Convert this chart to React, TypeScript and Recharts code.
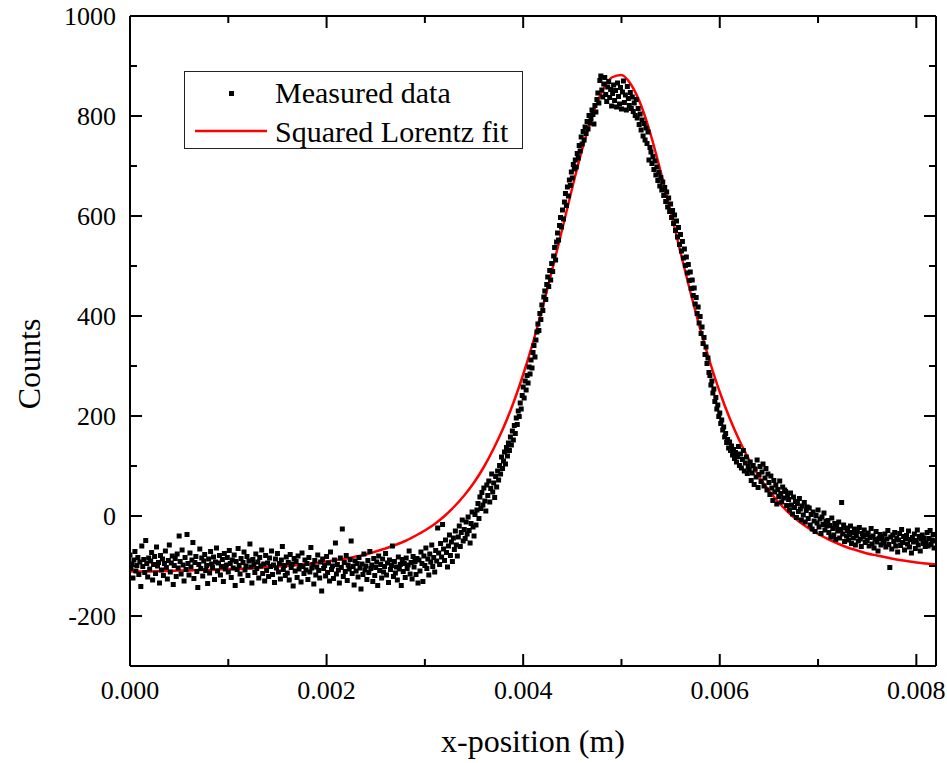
import React from 'react';
import { ComposedChart, Scatter, Line, XAxis, YAxis, Legend, Label } from 'recharts';

// ---------- data ----------
const MEASURED_X_START = 0;
const MEASURED_X_STEP = 0.00001; // m, scan step
const measuredCounts: number[] = [
  -78, -105, -96, -124, -88, -71, -110, -99, -83, -117, -92, -141, -60, -101, -87, -113, -49, -95, -122, -84,
  -106, -90, -73, -128, -97, -81, -115, -62, -100, -93, -134, -79, -108, -86, -119, -95, -70, -103, -126, -89,
  -58, -112, -94, -80, -137, -99, -85, -121, -76, -104, -40, -91, -116, -68, -98, -130, -83, -107, -37, -95,
  -118, -74, -102, -88, -53, -125, -93, -81, -111, -143, -97, -66, -105, -84, -120, -90, -77, -109, -99, -135,
  -86, -114, -71, -96, -103, -82, -127, -92, -64, -110, -94, -79, -118, -101, -87, -131, -75, -106, -98, -83,
  -112, -69, -95, -123, -88, -104, -78, -139, -91, -107, -65, -99, -116, -85, -129, -93, -72, -108, -100, -81,
  -119, -90, -56, -102, -134, -87, -97, -113, -76, -105, -92, -124, -83, -100, -68, -115, -96, -130, -79, -109,
  -94, -121, -84, -101, -70, -117, -98, -133, -86, -104, -75, -112, -95, -126, -88, -61, -107, -99, -119, -82,
  -114, -93, -128, -77, -103, -96, -140, -85, -110, -91, -123, -80, -106, -99, -132, -74, -101, -115, -88, -108,
  -95, -127, -83, -112, -63, -104, -97, -136, -89, -118, -102, -78, -109, -124, -92, -150, -86, -105, -99, -120,
  -81, -113, -94, -130, -72, -107, -100, -125, -88, -54, -116, -97, -108, -134, -84, -103, -26, -121, -93, -111,
  -79, -129, -98, -106, -87, -50, -115, -101, -138, -90, -110, -95, -122, -83, -104, -146, -96, -117, -76, -108,
  -100, -127, -89, -113, -71, -105, -98, -131, -85, -119, -103, -92, -139, -80, -109, -97, -124, -86, -112, -101,
  -75, -118, -94, -133, -88, -107, -99, -60, -121, -91, -114, -102, -128, -82, -106, -97, -139, -87, -111, -95,
  -123, -84, -105, -98, -70, -116, -93, -126, -81, -102, -91, -117, -85, -134,
  -88, -110, -72, -95, -131, -80, -99, -64, -105, -86, -118, -76, -92, -58, -101, -83, -112, -69, -90, -24,
  -74, -97, -55, -82, -17, -66, -89, -48, -73, -102, -60, -38, -79, -52, -91, -44, -67, -30, -58, -80,
  -42, -20, -61, -33, -8, -50, -27, -45, -12, -36, -2, -29, -54, -15, 8, -22, -40, 3, -18, 12,
  25, -5, 38, 15, 47, 22, 56, 30, 10, 62, 41, 70, 28, 55, 84, 48, 66, 37, 79, 58,
  90, 72, 101, 84, 118, 95, 110, 128, 104, 137, 120, 146, 131, 158, 142, 170, 152, 181, 165, 196,
  183, 210, 199, 226, 214, 241, 258, 236, 270, 252, 281, 266, 298, 284, 312, 296, 327, 341, 318, 352,
  368, 384, 371, 405, 393, 422, 411, 438, 450, 433, 463, 478, 459, 491, 472, 505, 489, 520, 537, 512,
  548, 566, 552, 581, 597, 578, 612, 594, 628, 645, 621, 658, 640, 672, 661, 688, 676, 703, 694, 712,
  698, 725, 716, 741, 730, 758, 744, 769, 752, 778, 765, 789, 774, 801, 786, 795, 812, 803, 784, 821,
  808, 833, 846, 826, 871, 880, 852, 838, 864, 877, 843, 829, 858, 869, 837, 853, 820, 845, 862, 831,
  851, 818, 866, 839, 824, 857, 814, 848, 870, 827, 842, 812, 859, 835, 821, 847,
  815, 838, 809, 826, 801, 833, 796, 815, 783, 804, 772, 792, 760, 785, 752, 776, 745, 768, 712, 737,
  728, 705, 719, 693, 710, 682, 698, 671, 687, 660, 677, 652, 668, 641, 657, 629, 648, 618, 636, 609,
  624, 597, 611, 585, 602, 571, 590, 558, 577, 543, 563, 530, 549, 516, 534, 501, 518, 486, 503, 471,
  488, 455, 472, 441, 456, 424, 437, 405, 418, 386, 399, 365, 378, 345, 357, 323, 338, 305, 316, 287,
  281, 262, 270, 246, 254, 229, 237, 214, 222, 199, 206, 185, 192, 172, 178, 158, 165, 147, 153, 136,
  148, 131, 140, 122, 133, 115, 127, 108, 119, 139, 101, 124, 96, 113, 131, 90, 106, 118, 85, 99,
  92, 108, 71, 86, 101, 63, 94, 78, 112, 57, 83, 99, 69, 88, 104, 60, 76, 95, 52, 84,
  67, 43, 80, 56, 31, 71, 48, 62, 24, 53, 39, 70, 45, 28, 58, 36, 52, 49, 21, 41,
  33, 12, 46, 22, 4, 38, 17, 29, -3, 25, 9, 35, 14, -8, 20, 2, 27, -12, 11, 18,
  -5, 16, -18, 3, -26, 8, -10, -31, 1, -14, 12, -22, -6, -35, -2, -17, 6, -28, -11, -20,
  -9, -33, -19, -42, -4, -25, -38, -15, -47, -21, -30, -12, -44, -27, 27, -36, -18, -51, -24, -40,
  -29, -48, -37, -20, -55, -33, -44, -26, -58, -39, -31, -50, -23, -46, -61, -35, -42, -28, -53, -38,
  -49, -34, -60, -43, -25, -56, -40, -64, -47, -31, -52, -70, -45, -37, -58, -41, -50, -54, -36, -62,
  -46, -29, -57, -103, -42, -66, -38, -51, -33, -60, -44, -72, -48, -35, -59, -27, -53, -41, -68, -45,
  -39, -56, -30, -62, -47, -74, -43, -52, -36, -65, -49, -28, -58, -41, -70, -46, -38, -55, -44, -61,
  -52, -33, -60, -45, -29, -57, -48, -37, -64, -50,
];

const FIT_X_START = 0;
const FIT_X_STEP = 0.0001;
const fitCounts: number[] = [
  -111, -111, -111, -110, -110, -109, -109, -108, -108, -107,
  -106, -106, -105, -104, -102, -101, -100, -98, -96, -94,
  -91, -88, -85, -81, -77, -71, -65, -58, -50, -40,
  -29, -16, 0, 19, 41, 67, 98, 135, 177, 226,
  283, 347, 419, 496, 576, 657, 733, 799, 848, 877,
  882, 862, 821, 761, 688, 609, 528, 449, 375, 308,
  248, 196, 151, 112, 79, 51, 27, 7, -10, -24,
  -36, -46, -55, -63, -69, -75, -79, -83, -87, -90,
  -93, -95, -97,
];

const xTicks = [0, 0.001, 0.002, 0.003, 0.004, 0.005, 0.006, 0.007, 0.008];
const yTicks = [-200, -100, 0, 100, 200, 300, 400, 500, 600, 700, 800, 900, 1000];
const X_DOMAIN: [number, number] = [0, 0.0082];
const Y_DOMAIN: [number, number] = [-300, 1000];
const SERIES_NAMES = ['Measured data', 'Squared Lorentz fit'];
const X_TITLE = 'x-position (m)';
const Y_TITLE = 'Counts';

const measuredData = measuredCounts.map((y, i) => ({ x: MEASURED_X_START + i * MEASURED_X_STEP, y }));
const fitData = fitCounts.map((y, i) => ({ x: FIT_X_START + i * FIT_X_STEP, y }));

// ---------- style ----------
const FONT = 'Liberation Serif';
const TICK_FONT = 26;
const TITLE_FONT = 32;
const LEGEND_FONT = 30;
const MAJOR = 12;
const MINOR = 7;
const AXIS_W = 2;
const txt = { fontFamily: FONT };

const isMajorX = (v: number) => Math.round(v * 1000) % 2 === 0;
const isMajorY = (v: number) => Math.round(v / 100) % 2 === 0;

const BottomTick = (props: any) => {
  const { x, y, payload } = props;
  const v = payload.value as number;
  const major = isMajorX(v);
  return (
    <g>
      <line x1={x} x2={x} y1={y} y2={y - (major ? MAJOR : MINOR)} stroke="#000" strokeWidth={AXIS_W} />
      {major && (
        <text x={x} y={y + 33} textAnchor="middle" fontSize={TICK_FONT} style={txt} fill="#000">
          {v.toFixed(3)}
        </text>
      )}
    </g>
  );
};

const TopTick = (props: any) => {
  const { x, y, payload } = props;
  const v = payload.value as number;
  const major = isMajorX(v);
  return <line x1={x} x2={x} y1={y} y2={y + (major ? MAJOR : MINOR)} stroke="#000" strokeWidth={AXIS_W} />;
};

const LeftTick = (props: any) => {
  const { x, y, payload } = props;
  const v = payload.value as number;
  const major = isMajorY(v);
  return (
    <g>
      <line x1={x} x2={x + (major ? MAJOR : MINOR)} y1={y} y2={y} stroke="#000" strokeWidth={AXIS_W} />
      {major && (
        <text x={x - 14} y={y + 9} textAnchor="end" fontSize={TICK_FONT} style={txt} fill="#000">
          {String(v)}
        </text>
      )}
    </g>
  );
};

const RightTick = (props: any) => {
  const { x, y, payload } = props;
  const v = payload.value as number;
  const major = isMajorY(v);
  return <line x1={x} x2={x - (major ? MAJOR : MINOR)} y1={y} y2={y} stroke="#000" strokeWidth={AXIS_W} />;
};

const SquareDot = (props: any) => {
  const { cx, cy } = props;
  if (cx == null || cy == null) return null;
  return <rect x={cx - 2.5} y={cy - 2.5} width={5} height={5} fill="#000" />;
};

const XTitle = (props: any) => {
  const vb = props.viewBox || { x: 130, y: 666, width: 806, height: 97 };
  return (
    <text x={vb.x + vb.width / 2} y={vb.y + 86} textAnchor="middle" fontSize={TITLE_FONT} style={txt} fill="#000">
      {X_TITLE}
    </text>
  );
};

const YTitle = (props: any) => {
  const vb = props.viewBox || { x: 0, y: 16, width: 130, height: 650 };
  const cx = vb.x + 40;
  const cy = vb.y + vb.height / 2 + 23;
  return (
    <text x={cx} y={cy} transform={`rotate(-90, ${cx}, ${cy})`} textAnchor="middle" fontSize={TITLE_FONT} style={txt} fill="#000">
      {Y_TITLE}
    </text>
  );
};

const LegendBox = () => (
  <div style={{ width: 339, height: 78, border: '1.3px solid #222', boxSizing: 'border-box', background: '#fff' }}>
    <svg width={337} height={76} style={{ display: 'block' }}>
      <rect x={44} y={19} width={5} height={5} fill="#000" />
      <text x={90} y={31} fontSize={LEGEND_FONT} style={txt} fill="#000">{SERIES_NAMES[0]}</text>
      <line x1={10} x2={82} y1={59} y2={59} stroke="#ff0000" strokeWidth={2.5} />
      <text x={90} y={70} fontSize={LEGEND_FONT} style={txt} fill="#000">{SERIES_NAMES[1]}</text>
    </svg>
  </div>
);

export default function App() {
  return (
    <div style={{ position: 'absolute', left: 0, top: 0, width: 947, height: 763, background: '#fff', fontFamily: FONT }}>
      <ComposedChart width={947} height={763} margin={{ top: 15, right: 10, bottom: 0, left: 0 }}>
        <XAxis
          xAxisId="bottom"
          orientation="bottom"
          type="number"
          dataKey="x"
          domain={X_DOMAIN}
          allowDataOverflow
          ticks={xTicks}
          interval={0}
          height={97}
          tickSize={0}
          tickMargin={0}
          tickLine={false}
          axisLine={{ stroke: '#000', strokeWidth: AXIS_W }}
          tick={<BottomTick />}
        >
          <Label content={<XTitle />} />
        </XAxis>
        <XAxis
          xAxisId="top"
          orientation="top"
          type="number"
          dataKey="x"
          domain={X_DOMAIN}
          allowDataOverflow
          ticks={xTicks}
          interval={0}
          height={1}
          tickSize={0}
          tickMargin={0}
          tickLine={false}
          axisLine={{ stroke: '#000', strokeWidth: AXIS_W }}
          tick={<TopTick />}
        />
        <YAxis
          yAxisId="left"
          orientation="left"
          type="number"
          dataKey="y"
          domain={Y_DOMAIN}
          allowDataOverflow
          ticks={yTicks}
          interval={0}
          width={130}
          tickSize={0}
          tickMargin={0}
          tickLine={false}
          axisLine={{ stroke: '#000', strokeWidth: AXIS_W }}
          tick={<LeftTick />}
        >
          <Label content={<YTitle />} />
        </YAxis>
        <YAxis
          yAxisId="right"
          orientation="right"
          type="number"
          dataKey="y"
          domain={Y_DOMAIN}
          allowDataOverflow
          ticks={yTicks}
          interval={0}
          width={1}
          tickSize={0}
          tickMargin={0}
          tickLine={false}
          axisLine={{ stroke: '#000', strokeWidth: AXIS_W }}
          tick={<RightTick />}
        />
        <Scatter
          name={SERIES_NAMES[0]}
          data={measuredData}
          xAxisId="bottom"
          yAxisId="left"
          dataKey="y"
          shape={<SquareDot />}
          isAnimationActive={false}
        />
        <Line
          name={SERIES_NAMES[1]}
          data={fitData}
          xAxisId="bottom"
          yAxisId="left"
          dataKey="y"
          type="monotone"
          stroke="#ff0000"
          strokeWidth={2.5}
          dot={false}
          activeDot={false}
          isAnimationActive={false}
        />
        <Legend
          layout="vertical"
          align="center"
          verticalAlign="middle"
          content={<LegendBox />}
          wrapperStyle={{ left: 184, top: 71, width: 339, height: 78 }}
        />
      </ComposedChart>
    </div>
  );
}
